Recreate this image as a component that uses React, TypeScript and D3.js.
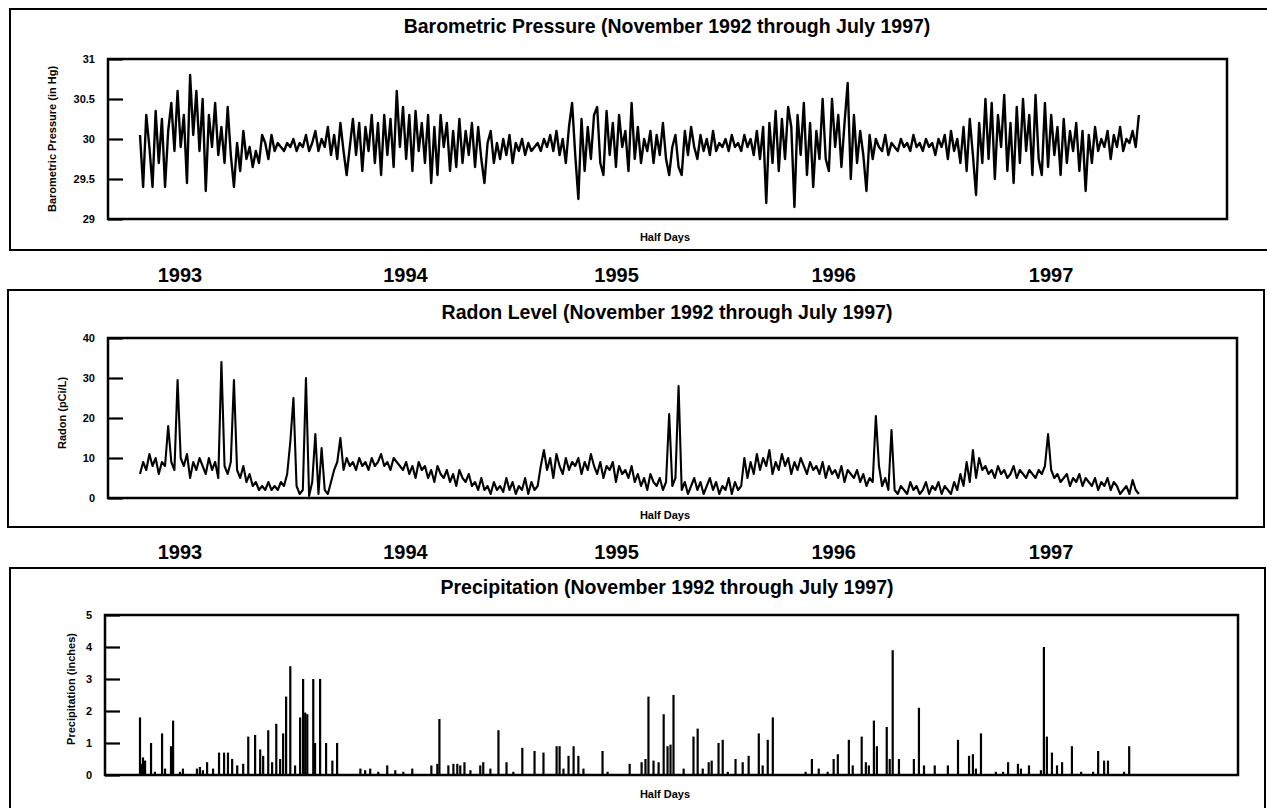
import React, { useEffect, useRef } from 'react';
import * as d3 from 'd3';

const FONT = '"Liberation Sans", Arial, Helvetica, sans-serif';

// readings taken every SAMPLE_STEP half days, starting November 1992
const SAMPLE_STEP = 10.5;
const TOTAL_HALF_DAYS = 3360;

const pressure = [
  30.05, 29.4, 30.3, 29.9, 29.4, 30.35, 29.7, 30.25, 29.4, 30.1,
  30.45, 29.85, 30.6, 29.9, 30.3, 29.45, 30.8, 30.05, 30.6, 29.85,
  30.5, 29.35, 30.3, 29.9, 30.45, 29.8, 30.15, 29.7, 30.4, 29.8,
  29.4, 29.95, 29.6, 30.1, 29.75, 29.9, 29.65, 29.85, 29.7, 30.05,
  29.95, 29.75, 30.05, 29.85, 29.95, 29.9, 29.85, 29.95, 29.9, 30.0,
  29.85, 29.95, 29.9, 30.05, 29.85, 29.95, 30.1, 29.85, 30.0, 29.9,
  30.15, 29.8, 30.05, 29.75, 30.2, 29.85, 29.55, 29.9, 30.25, 29.8,
  30.2, 29.6, 30.15, 29.85, 30.3, 29.7, 30.2, 29.55, 30.3, 29.8,
  30.25, 29.65, 30.6, 29.9, 30.4, 29.75, 30.3, 29.6, 30.35, 29.85,
  30.2, 29.7, 30.3, 29.45, 30.15, 29.55, 30.3, 29.9, 30.2, 29.6,
  30.1, 29.65, 30.25, 29.7, 30.1, 29.8, 30.2, 29.65, 30.15, 29.75,
  29.45, 29.95, 30.1, 29.7, 29.95, 29.75, 30.0, 29.8, 30.05, 29.7,
  29.95, 29.85, 30.0, 29.8, 29.95, 29.85, 29.9, 29.95, 29.85, 30.0,
  29.9, 30.05, 29.85, 30.1, 29.8, 30.0, 29.7, 30.15, 30.45, 29.8,
  29.25, 30.25, 29.6, 30.15, 29.75, 30.3, 30.4, 29.7, 29.55, 30.35,
  29.8, 30.2, 29.65, 30.3, 29.9, 30.1, 29.6, 30.45, 29.75, 30.15,
  29.7, 30.0, 29.85, 30.1, 29.7, 30.05, 29.8, 30.2, 29.75, 29.55,
  29.9, 30.05, 29.65, 29.55, 30.1, 29.8, 30.15, 29.9, 29.75, 30.05,
  29.85, 30.0, 29.8, 30.1, 29.85, 29.95, 29.9, 30.0, 29.85, 30.05,
  29.9, 29.95, 29.85, 30.05, 29.9, 30.0, 29.8, 30.1, 29.75, 30.15,
  29.2, 30.2, 29.7, 30.35, 29.6, 30.25, 29.75, 30.4, 30.15, 29.15,
  30.3, 29.8, 30.45, 29.55, 30.2, 29.4, 30.1, 29.75, 30.5, 29.75,
  29.6, 30.5, 29.9, 30.3, 29.65, 30.2, 30.7, 29.5, 30.3, 29.7,
  30.1, 29.8, 29.35, 30.05, 29.75, 30.0, 29.9, 29.85, 30.05, 29.8,
  29.95, 29.9, 29.85, 30.0, 29.9, 29.95, 29.85, 30.05, 29.9, 29.95,
  29.85, 30.0, 29.9, 29.95, 29.8, 30.0, 29.9, 30.05, 29.75, 30.1,
  29.85, 30.0, 29.7, 30.15, 29.6, 30.25, 29.8, 29.3, 30.2, 29.7,
  30.5, 29.75, 30.45, 29.5, 30.3, 29.9, 30.55, 29.6, 30.2, 29.45,
  30.4, 29.7, 30.5, 29.85, 30.3, 29.55, 30.55, 29.75, 29.55, 30.45,
  29.65, 30.3, 29.8, 30.15, 29.55, 30.25, 29.7, 30.1, 29.85, 30.2,
  29.6, 30.1, 29.35, 30.05, 29.7, 30.15, 29.85, 30.0, 29.9, 30.1,
  29.75, 30.05, 29.9, 30.15, 29.85, 30.0, 29.95, 30.1, 29.9, 30.3,
];

const radon = [
  6, 9, 7, 11, 8, 10, 6, 9, 8, 18,
  9, 7, 29.5, 10, 8, 11, 5, 9, 7, 10,
  8, 6, 10, 7, 9, 5, 34, 8, 6, 9,
  29.5, 7, 5, 8, 4, 6, 3, 4, 2, 3,
  2, 4, 2, 3, 2, 4, 3, 6, 14, 25,
  3, 1, 2, 30, 0.5, 4, 16, 1, 12.5, 2,
  1, 4, 7, 9, 15, 7, 10, 8, 9, 7,
  10, 8, 9, 7, 10, 8, 9, 11, 8, 9,
  7, 10, 9, 8, 7, 9, 6, 8, 5, 9,
  7, 8, 5, 7, 4, 8, 6, 5, 7, 4,
  6, 3, 7, 5, 4, 6, 3, 4, 2, 5,
  2, 3, 1, 4, 2, 3, 1.5, 5, 2, 4,
  1, 3, 2, 5, 1, 4, 2, 3, 8, 12,
  7, 10, 5, 11, 8, 6, 10, 7, 9, 8,
  10, 6, 9, 7, 11, 8, 6, 9, 5, 8,
  7, 9, 4, 8, 6, 7, 5, 8, 4, 6,
  3, 5, 2, 6, 4, 3, 5, 2, 4, 21,
  3, 5, 28, 2, 4, 1, 3, 5, 2, 4,
  1, 3, 5, 2, 4, 1, 3, 2, 5, 1,
  4, 2, 3, 10, 5, 9, 6, 11, 7, 10,
  8, 12, 6, 9, 7, 11, 8, 10, 6, 9,
  7, 10, 8, 6, 9, 7, 8, 6, 9, 5,
  8, 6, 7, 5, 8, 4, 7, 6, 5, 7,
  4, 6, 3, 5, 4, 20.5, 8, 3, 5, 2,
  17, 2, 1, 3, 2, 1, 4, 2, 3, 1,
  2, 4, 1, 3, 2, 4, 1, 3, 2, 1,
  4, 2, 6, 3, 9, 4, 12, 5, 10, 7,
  8, 6, 7, 5, 8, 6, 7, 5, 6, 8,
  5, 7, 6, 5, 7, 6, 5, 7, 6, 8,
  16, 7, 5, 6, 4, 5, 6, 3, 5, 4,
  6, 3, 5, 4, 3, 5, 2, 4, 3, 5,
  2, 4, 3, 1, 2, 3, 1, 4.5, 2, 1,
];

const precipHalfDay = [
  0, 3, 10, 17, 37, 50, 74, 84, 104, 111, 134, 144, 191, 201, 211, 225, 245, 265, 282, 295,
  309, 326, 346, 363, 386, 403, 413, 430, 443, 457, 470, 480, 490, 504, 520, 537, 547, 554, 561, 581,
  587, 604, 624, 645, 661, 739, 755, 772, 799, 829, 856, 883, 913, 977, 997, 1004, 1034, 1051, 1064, 1074,
  1088, 1108, 1141, 1151, 1175, 1202, 1229, 1252, 1282, 1323, 1353, 1397, 1407, 1420, 1437, 1454, 1470, 1487, 1551, 1568,
  1642, 1682, 1695, 1705, 1722, 1739, 1756, 1769, 1779, 1789, 1823, 1856, 1870, 1887, 1907, 1917, 1940, 1954, 1971, 1997,
  2021, 2041, 2075, 2088, 2105, 2122, 2232, 2253, 2276, 2306, 2326, 2340, 2377, 2390, 2420, 2434, 2444, 2461, 2471, 2504,
  2514, 2524, 2545, 2595, 2612, 2629, 2665, 2709, 2743, 2780, 2793, 2803, 2820, 2870, 2894, 2911, 2944, 2954, 2981, 3021,
  3031, 3041, 3058, 3075, 3092, 3125, 3156, 3196, 3213, 3233, 3246, 3300, 3317,
];

const precipInches = [
  1.8, 0.35, 0.55, 0.45, 1.0, 0.1, 1.3, 0.2, 0.9, 1.7, 0.1, 0.2, 0.2, 0.25, 0.15, 0.4, 0.2, 0.7, 0.7, 0.7,
  0.5, 0.3, 0.35, 1.2, 1.25, 0.8, 0.6, 1.4, 0.4, 1.6, 0.5, 1.3, 2.45, 3.4, 0.3, 1.8, 3.0, 1.95, 1.9, 3.0,
  1.0, 3.0, 1.0, 0.45, 1.0, 0.2, 0.15, 0.2, 0.1, 0.3, 0.15, 0.1, 0.2, 0.3, 0.35, 1.75, 0.3, 0.35, 0.35, 0.3,
  0.4, 0.15, 0.3, 0.4, 0.2, 1.4, 0.4, 0.1, 0.85, 0.75, 0.7, 0.9, 0.9, 0.2, 0.6, 0.9, 0.6, 0.2, 0.75, 0.1,
  0.35, 0.4, 0.5, 2.45, 0.45, 0.4, 1.9, 0.9, 0.95, 2.5, 0.2, 1.2, 1.45, 0.2, 0.4, 0.45, 1.0, 1.1, 0.1, 0.5,
  0.4, 0.6, 1.3, 0.3, 1.1, 1.8, 0.1, 0.5, 0.2, 0.1, 0.5, 0.65, 1.1, 0.3, 1.2, 0.4, 0.3, 1.7, 0.9, 1.5,
  0.5, 3.9, 0.5, 0.5, 2.1, 0.3, 0.3, 0.3, 1.1, 0.6, 0.65, 0.2, 1.3, 0.1, 0.1, 0.4, 0.35, 0.2, 0.3, 0.15,
  4.0, 1.2, 0.7, 0.3, 0.4, 0.9, 0.1, 0.1, 0.75, 0.45, 0.45, 0.1, 0.9,
];

const yearLabels = ['1993', '1994', '1995', '1996', '1997'];
const yearHalfDay = [134, 890, 1598, 2326, 3055];

const pressureTicks = [29, 29.5, 30, 30.5, 31];
const radonTicks = [0, 10, 20, 30, 40];
const precipTicks = [0, 1, 2, 3, 4, 5];

const panels = [
  {
    title: 'Barometric Pressure (November 1992 through July 1997)',
    yLabel: 'Barometric Pressure (in Hg)',
    kind: 'line', values: pressure, domain: [29, 31], ticks: pressureTicks, lineWidth: 2.4,
    frame: [10, 9, 1268, 250], box: [108, 59, 1227, 219],
    titleY: 33, labelX: 56, labelY: 139, halfY: 241,
  },
  {
    title: 'Radon Level (November 1992 through July 1997)',
    yLabel: 'Radon (pCi/L)',
    kind: 'line', values: radon, domain: [0, 40], ticks: radonTicks, lineWidth: 2.1,
    frame: [8, 290, 1264, 527], box: [108, 338, 1237, 498],
    titleY: 319, labelX: 66, labelY: 413, halfY: 519,
  },
  {
    title: 'Precipitation (November 1992 through July 1997)',
    yLabel: 'Precipitation (inches)',
    kind: 'bars', values: precipInches, domain: [0, 5], ticks: precipTicks, lineWidth: 2.2,
    frame: [10, 568, 1265, 812], box: [105, 615, 1238, 775],
    titleY: 594, labelX: 75, labelY: 689, halfY: 798,
  },
];

const yearRows = [282, 559];

export default function App() {
  const ref = useRef<SVGSVGElement>(null);

  useEffect(() => {
    document.body.style.margin = '0';
    const svg = d3.select(ref.current);
    svg.selectAll('*').remove();

    const x = d3.scaleLinear().domain([0, TOTAL_HALF_DAYS]).range([140, 1142]);

    panels.forEach(p => {
      const g = svg.append('g');
      const [fx0, fy0, fx1, fy1] = p.frame;
      const [bx0, by0, bx1, by1] = p.box;

      g.append('rect')
        .attr('x', fx0).attr('y', fy0)
        .attr('width', fx1 - fx0).attr('height', fy1 - fy0)
        .attr('fill', 'none').attr('stroke', '#000').attr('stroke-width', 2);

      g.append('text')
        .attr('x', 667).attr('y', p.titleY)
        .attr('text-anchor', 'middle')
        .attr('font-family', FONT).attr('font-weight', 'bold').attr('font-size', 19.5)
        .text(p.title);

      const y = d3.scaleLinear().domain(p.domain).range([by1, by0]);

      if (p.kind === 'line') {
        const line = d3.line<number>()
          .x((d, i) => x(i * SAMPLE_STEP))
          .y(d => y(d));
        g.append('path')
          .attr('d', line(p.values))
          .attr('fill', 'none')
          .attr('stroke', '#000')
          .attr('stroke-width', p.lineWidth)
          .attr('stroke-linejoin', 'round');
      } else {
        g.selectAll('line.bar')
          .data(precipHalfDay)
          .enter()
          .append('line')
          .attr('class', 'bar')
          .attr('x1', d => x(d)).attr('x2', d => x(d))
          .attr('y1', y(0))
          .attr('y2', (d, i) => y(precipInches[i]))
          .attr('stroke', '#000')
          .attr('stroke-width', p.lineWidth);
      }

      g.append('rect')
        .attr('x', bx0).attr('y', by0)
        .attr('width', bx1 - bx0).attr('height', by1 - by0)
        .attr('fill', 'none').attr('stroke', '#000').attr('stroke-width', 2.5);

      const axis = d3.axisLeft(y)
        .tickValues(p.ticks)
        .tickSize(-15)
        .tickPadding(13)
        .tickFormat(d => String(d));
      const ag = g.append('g')
        .attr('transform', `translate(${bx0},0)`)
        .call(axis);
      ag.select('.domain').remove();
      ag.attr('font-family', FONT).attr('font-size', 11).attr('font-weight', 'bold');
      ag.selectAll('line').attr('stroke-width', 2.2);

      g.append('text')
        .attr('transform', `translate(${p.labelX},${p.labelY}) rotate(-90)`)
        .attr('text-anchor', 'middle')
        .attr('font-family', FONT).attr('font-weight', 'bold').attr('font-size', 11)
        .text(p.yLabel);

      g.append('text')
        .attr('x', 665).attr('y', p.halfY)
        .attr('text-anchor', 'middle')
        .attr('font-family', FONT).attr('font-weight', 'bold').attr('font-size', 11)
        .text('Half Days');
    });

    yearRows.forEach(rowY => {
      svg.append('g')
        .selectAll('text')
        .data(yearLabels)
        .enter()
        .append('text')
        .attr('x', (d, i) => x(yearHalfDay[i]))
        .attr('y', rowY)
        .attr('text-anchor', 'middle')
        .attr('font-family', FONT).attr('font-weight', 'bold').attr('font-size', 20)
        .text(d => d);
    });
  }, []);

  return (
    <svg ref={ref} width={1267} height={808} style={{ display: 'block', background: '#fff' }} />
  );
}
